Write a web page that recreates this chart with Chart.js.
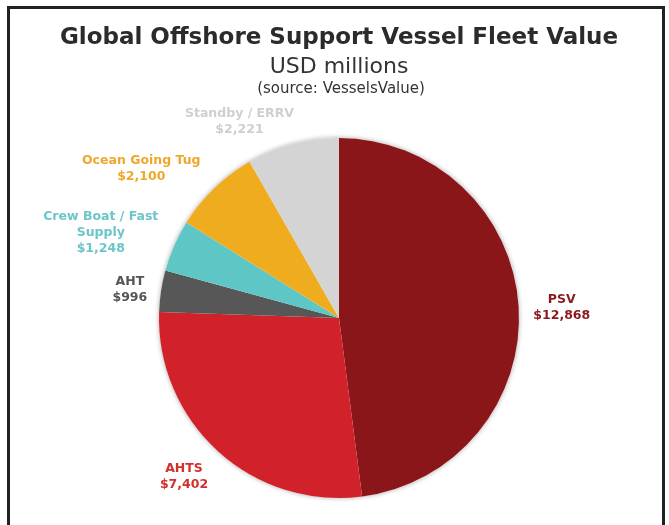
<!DOCTYPE html>
<html>
<head>
<meta charset="utf-8">
<script src="https://cdn.jsdelivr.net/npm/chart.js@4.4.1/dist/chart.umd.min.js"></script>
<style>
  html, body { margin: 0; padding: 0; background: #ffffff; overflow: hidden; }
  #wrap { position: relative; width: 669px; height: 525px; }
  #frame { position: absolute; left: 7px; top: 6px; width: 652px; height: 530px;
           border: 3px solid #222222; pointer-events: none; box-sizing: content-box; }
</style>
</head>
<body>
<div id="wrap">
  <canvas id="c" width="669" height="525"></canvas>
  <div id="frame"></div>
</div>
<script>
// ---- data ----
const categories = ['PSV', 'AHTS', 'AHT', 'Crew Boat / Fast Supply', 'Ocean Going Tug', 'Standby / ERRV'];
const fleetValue = [12868, 7402, 996, 1248, 2100, 2221];
const sliceColors = ['#8a1619', '#d1222b', '#575757', '#5ec7c6', '#f0ac1f', '#d4d4d4'];
const labelColors = ['#8b1a1c', '#d1302c', '#555555', '#6cc6c8', '#efa829', '#cfcfcf'];
const titleText = 'Global Offshore Support Vessel Fleet Value';
const subtitleText = 'USD millions';
const sourceText = '(source: VesselsValue)';

// label placement relative to each slice: angle shift (deg) and extra radial distance of label centre
const labelPlacement = [
  { a: 1, r: 43 }, { a: 2, r: 42 }, { a: -1, r: 31 },
  { a: -4, r: 73 }, { a: -9, r: 68 }, { a: -12, r: 40 }
];

const FONT = '"DejaVu Sans", Verdana, sans-serif';

function wrapText(ctx, text, maxW) {
  const words = text.split(' ');
  const lines = [];
  let cur = '';
  for (const w of words) {
    const t = cur ? cur + ' ' + w : w;
    if (ctx.measureText(t).width > maxW && cur) { lines.push(cur); cur = w; }
    else cur = t;
  }
  if (cur) lines.push(cur);
  return lines;
}

const shadowPlugin = {
  id: 'pieShadow',
  beforeDatasetsDraw(chart) {
    const meta = chart.getDatasetMeta(0);
    if (!meta.data.length) return;
    const a = meta.data[0];
    const ctx = chart.ctx;
    ctx.save();
    ctx.shadowColor = 'rgba(0,0,0,0.35)';
    ctx.shadowBlur = 5;
    ctx.fillStyle = '#ffffff';
    ctx.beginPath();
    ctx.arc(a.x, a.y, a.outerRadius, 0, Math.PI * 2);
    ctx.fill();
    ctx.restore();
  }
};

const labelPlugin = {
  id: 'outsideLabels',
  afterDatasetsDraw(chart) {
    const ctx = chart.ctx;
    const meta = chart.getDatasetMeta(0);
    ctx.save();
    ctx.font = 'bold 12.5px ' + FONT;
    ctx.textAlign = 'center';
    ctx.textBaseline = 'middle';
    const lineH = 16;
    meta.data.forEach((arc, i) => {
      const p = arc.getProps(['x', 'y', 'startAngle', 'endAngle', 'outerRadius'], true);
      const place = labelPlacement[i];
      const mid = (p.startAngle + p.endAngle) / 2 + place.a * Math.PI / 180;
      const dist = p.outerRadius + place.r;
      const cx = p.x + Math.cos(mid) * dist;
      const cy = p.y + Math.sin(mid) * dist;
      const lines = wrapText(ctx, categories[i], 125);
      lines.push('$' + fleetValue[i].toLocaleString('en-US'));
      ctx.fillStyle = labelColors[i];
      const top = cy - (lines.length - 1) * lineH / 2;
      lines.forEach((ln, k) => ctx.fillText(ln, cx, top + k * lineH));
    });
    ctx.restore();
  }
};

const sourcePlugin = {
  id: 'sourceLine',
  afterDraw(chart) {
    const ctx = chart.ctx;
    ctx.save();
    ctx.font = '15px ' + FONT;
    ctx.fillStyle = '#333333';
    ctx.textAlign = 'center';
    ctx.textBaseline = 'alphabetic';
    ctx.fillText(sourceText, 341, 93);
    ctx.restore();
  }
};

new Chart(document.getElementById('c'), {
  type: 'pie',
  data: {
    labels: categories,
    datasets: [{
      data: fleetValue,
      backgroundColor: sliceColors,
      borderWidth: 0
    }]
  },
  options: {
    responsive: false,
    animation: false,
    layout: { padding: { left: 9, right: 0, top: 0, bottom: 27 } },
    plugins: {
      legend: { display: false },
      tooltip: { enabled: false },
      title: {
        display: true,
        text: titleText,
        color: '#2b2b2b',
        font: { family: FONT, size: 23, weight: 'bold', lineHeight: 1.2 },
        padding: { top: 24.2, bottom: 0 }
      },
      subtitle: {
        display: true,
        text: subtitleText,
        color: '#333333',
        font: { family: FONT, size: 22, weight: 'normal', lineHeight: 1.2 },
        padding: { top: 2, bottom: 57.8 }
      }
    }
  },
  plugins: [shadowPlugin, labelPlugin, sourcePlugin]
});
</script>
</body>
</html>
